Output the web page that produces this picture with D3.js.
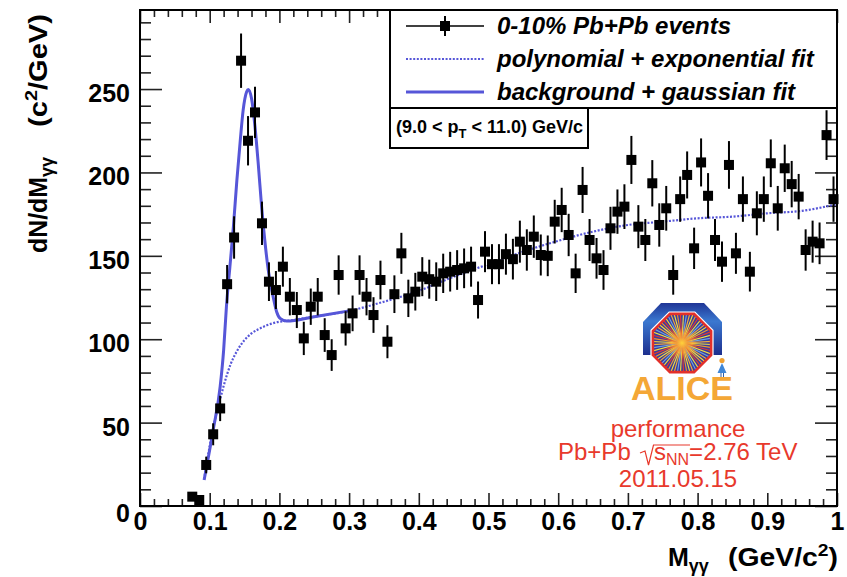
<!DOCTYPE html>
<html>
<head>
<meta charset="utf-8">
<script src="https://cdn.jsdelivr.net/npm/d3@7"></script>
<style>
  body { margin: 0; background: #fff; }
  svg { display: block; }
  text { font-family: "Liberation Sans", Arial, Helvetica, sans-serif; }
</style>
</head>
<body>
<svg id="chart" width="847" height="577"></svg>
<script>
// Invariant-mass bin centres (GeV/c^2)
const massBins = [
  0.075, 0.085, 0.095, 0.105, 0.115, 0.125, 0.135, 0.145, 0.155, 0.165,
  0.175, 0.185, 0.195, 0.205, 0.215, 0.225, 0.235, 0.245, 0.255, 0.265,
  0.275, 0.285, 0.295, 0.305, 0.315, 0.325, 0.335, 0.345, 0.355, 0.365,
  0.375, 0.385, 0.395, 0.405, 0.415, 0.425, 0.435, 0.445, 0.455, 0.465,
  0.475, 0.485, 0.495, 0.505, 0.515, 0.525, 0.535, 0.545, 0.555, 0.565,
  0.575, 0.585, 0.595, 0.605, 0.615, 0.625, 0.635, 0.645, 0.655, 0.665,
  0.675, 0.685, 0.695, 0.705, 0.715, 0.725, 0.735, 0.745, 0.755, 0.765,
  0.775, 0.785, 0.795, 0.805, 0.815, 0.825, 0.835, 0.845, 0.855, 0.865,
  0.875, 0.885, 0.895, 0.905, 0.915, 0.925, 0.935, 0.945, 0.955, 0.965,
  0.975, 0.985, 0.995
];
// dN/dM per bin
const counts = [
  5.6, 3.6, 24.6, 43, 58.5, 133, 161, 267, 219, 236,
  169.5, 134.5, 129.5, 143.5, 125.5, 117.5, 100.5, 119.5, 125.5, 102.5,
  90.5, 138.5, 106.5, 115.5, 138.5, 125.5, 114.5, 135.5, 98.5, 127,
  151.5, 124.5, 128.5, 137.5, 136, 134.5, 139.5, 140.5, 141.5, 142.5,
  143.5, 123.5, 152.5, 145, 145, 151, 148, 158.5, 153.5, 161.5,
  150.5, 150, 170.5, 177.5, 162.5, 139.5, 189.5, 159.5, 148.5, 141.5,
  166.5, 176.5, 179.5, 207.5, 167.5, 159.5, 193.5, 168.5, 178.5, 138.5,
  184, 198.5, 154.5, 206, 186, 159.5, 146.5, 204.5, 151.5, 184,
  140.5, 175.5, 184, 205.5, 178.5, 202.5, 193, 185.5, 153.5, 158.5,
  157.5, 222.4, 184
];
// statistical uncertainty per bin
const countErrors = [
  2.4, 1.9, 5.0, 6.6, 7.6, 11.5, 12.7, 16.3, 14.8, 15.4,
  13.0, 11.6, 11.4, 12.0, 11.2, 10.8, 10.0, 10.9, 11.2, 10.1,
  9.5, 11.8, 10.3, 10.7, 11.8, 11.2, 10.7, 11.6, 9.9, 11.3,
  12.3, 11.2, 11.3, 11.7, 11.7, 11.6, 11.8, 11.9, 11.9, 11.9,
  12.0, 11.1, 12.3, 12.0, 12.0, 12.3, 12.2, 12.6, 12.4, 12.7,
  12.3, 12.2, 13.1, 13.3, 12.7, 11.8, 13.8, 12.6, 12.2, 11.9,
  12.9, 13.3, 13.4, 14.4, 12.9, 12.6, 13.9, 13.0, 13.4, 11.8,
  13.6, 14.1, 12.4, 14.4, 13.6, 12.6, 12.1, 14.3, 12.3, 13.6,
  11.9, 13.2, 13.6, 14.3, 13.4, 14.2, 13.9, 13.6, 12.4, 12.6,
  12.5, 14.9, 13.6
];

// background + gaussian fit, sampled
const signalFitMass  = [0.092, 0.105, 0.115, 0.120, 0.124, 0.129, 0.134, 0.139, 0.1435, 0.148, 0.153, 0.1555, 0.160, 0.165, 0.170, 0.1745, 0.179, 0.184, 0.191, 0.196, 0.201, 0.2105, 0.25, 0.30];
const signalFitValue = [15.6, 45.6, 71.5, 93.5, 119.5, 143.5, 167.5, 195.4, 217.4, 237.4, 248.4, 249.8, 244.4, 227.4, 203.4, 179.4, 159.5, 141.5, 125.5, 116.5, 112.5, 110.9, 113.5, 117];
// polynomial + exponential background fit, sampled
const bkgFitMass  = [0.092, 0.100, 0.105, 0.110, 0.115, 0.120, 0.125, 0.130, 0.140, 0.150, 0.160, 0.170, 0.180, 0.190, 0.200, 0.210, 0.250, 0.300, 0.350, 0.400, 0.450, 0.500, 0.550, 0.600, 0.650, 0.700, 0.750, 0.800, 0.850, 0.900, 0.950, 1.000];
const bkgFitValue = [16, 36, 47, 56, 64, 72, 79, 85, 93.5, 99.5, 103.5, 106, 108, 109.5, 110.5, 111, 113.5, 117, 122.5, 129, 137.5, 145, 152.5, 159, 164.5, 168.5, 170.5, 172.5, 173.5, 175.5, 177, 181];

const xTickValues = [0, 0.1, 0.2, 0.3, 0.4, 0.5, 0.6, 0.7, 0.8, 0.9, 1];
const xTickLabels = ["0", "0.1", "0.2", "0.3", "0.4", "0.5", "0.6", "0.7", "0.8", "0.9", "1"];
const yTickValues = [0, 50, 100, 150, 200, 250];
const yTickLabels = ["0", "50", "100", "150", "200", "250"];
const legendLabels = ["0-10% Pb+Pb events", "polynomial + exponential fit", "background + gaussian fit"];

const fitBlue = "#5656d8";
const alertRed = "#e8392c";

const svg = d3.select("#chart");
svg.append("rect").attr("width", 847).attr("height", 577).attr("fill", "#fff");

const x = d3.scaleLinear().domain([0, 1]).range([140, 837]);
const y = d3.scaleLinear().domain([0, 297.4]).range([506, 10]);

const xMinor = d3.range(0, 1.0001, 0.02).filter(v => Math.abs(v * 10 - Math.round(v * 10)) > 1e-6);
const yMinor = d3.range(0, 297, 10).filter(v => v % 50 !== 0);

function styleAxis(g) {
  g.select(".domain").remove();
  g.selectAll(".tick line").attr("stroke", "#222").attr("stroke-width", 1.6);
}

// bottom axis
svg.append("g").attr("transform", "translate(0,506)")
  .call(d3.axisBottom(x).tickValues(xMinor).tickSize(-7).tickFormat(""))
  .call(styleAxis);
const gx = svg.append("g").attr("transform", "translate(0,506)")
  .call(d3.axisBottom(x).tickValues(xTickValues).tickSize(-13).tickPadding(6)
    .tickFormat((d, i) => xTickLabels[i]))
  .call(styleAxis);
gx.selectAll(".tick text")
  .attr("font-family", "Liberation Sans, Arial, sans-serif")
  .attr("font-size", 25).attr("font-weight", "bold").attr("fill", "#000");

// top axis (ticks only)
svg.append("g").attr("transform", "translate(0,10)")
  .call(d3.axisTop(x).tickValues(xMinor).tickSize(-7).tickFormat(""))
  .call(styleAxis);
svg.append("g").attr("transform", "translate(0,10)")
  .call(d3.axisTop(x).tickValues(xTickValues).tickSize(-13).tickFormat(""))
  .call(styleAxis);

// left axis
svg.append("g").attr("transform", "translate(140,0)")
  .call(d3.axisLeft(y).tickValues(yMinor).tickSize(-11).tickFormat(""))
  .call(styleAxis);
const gy = svg.append("g").attr("transform", "translate(140,0)")
  .call(d3.axisLeft(y).tickValues(yTickValues).tickSize(-22).tickPadding(10)
    .tickFormat((d, i) => yTickLabels[i]))
  .call(styleAxis);
gy.selectAll(".tick text")
  .attr("font-family", "Liberation Sans, Arial, sans-serif")
  .attr("font-size", 25).attr("font-weight", "bold").attr("fill", "#000")
  .attr("dy", (d) => d === 0 ? "0.62em" : "0.5em");

// right axis (ticks only)
svg.append("g").attr("transform", "translate(837,0)")
  .call(d3.axisRight(y).tickValues(yMinor).tickSize(-11).tickFormat(""))
  .call(styleAxis);
svg.append("g").attr("transform", "translate(837,0)")
  .call(d3.axisRight(y).tickValues(yTickValues).tickSize(-22).tickFormat(""))
  .call(styleAxis);

// frame
svg.append("rect").attr("x", 140).attr("y", 10).attr("width", 697).attr("height", 496)
  .attr("fill", "none").attr("stroke", "#000").attr("stroke-width", 2);

// ALICE logo
const logo = svg.append("g").attr("transform", "translate(682,343)");
const defs = svg.append("defs");
const archGrad = defs.append("linearGradient").attr("id", "archGrad")
  .attr("x1", "0").attr("y1", "0").attr("x2", "0").attr("y2", "1");
archGrad.append("stop").attr("offset", "0").attr("stop-color", "#1f3596");
archGrad.append("stop").attr("offset", "0.35").attr("stop-color", "#3b78d0");
archGrad.append("stop").attr("offset", "1").attr("stop-color", "#1d2f8e");
const coreGrad = defs.append("radialGradient").attr("id", "coreGrad");
coreGrad.append("stop").attr("offset", "0").attr("stop-color", "#ffd23a");
coreGrad.append("stop").attr("offset", "0.35").attr("stop-color", "#f29a3a").attr("stop-opacity", 0.9);
coreGrad.append("stop").attr("offset", "1").attr("stop-color", "#f29a3a").attr("stop-opacity", 0);

logo.append("path")
  .attr("d", "M-39,12 V-21 L-21,-40 H22 L40,-21 V12 Z")
  .attr("fill", "url(#archGrad)");
const octR = 31.5;
const octPts = d3.range(8).map(k => {
  const a = (22.5 + 45 * k) * Math.PI / 180;
  return [octR * Math.cos(a), octR * Math.sin(a)];
});
const octPath = "M" + octPts.map(p => p.join(",")).join("L") + "Z";
defs.append("clipPath").attr("id", "octClip").append("path").attr("d", octPath);
logo.append("path").attr("d", octPath).attr("fill", "#fff").attr("stroke", "#fff").attr("stroke-width", 5);
logo.append("path").attr("d", octPath).attr("fill", "#3a3c9c");
const rays = logo.append("g").attr("clip-path", "url(#octClip)");
const rayColours = ["#f6e23c", "#f39a2c", "#e8392c", "#f6e23c", "#6aa6e6", "#f3b23a"];
d3.range(60).forEach(i => {
  const a = i * 6 * Math.PI / 180 + 0.05;
  rays.append("line").attr("x1", 0).attr("y1", 0)
    .attr("x2", 40 * Math.cos(a)).attr("y2", 40 * Math.sin(a))
    .attr("stroke", rayColours[i % rayColours.length]).attr("stroke-width", 1.1);
});
rays.append("circle").attr("r", 16).attr("fill", "url(#coreGrad)");
logo.append("path").attr("d", octPath).attr("fill", "none")
  .attr("stroke", "#e3302a").attr("stroke-width", 2.6);
// little figure beside the detector
const fig = logo.append("g").attr("transform", "translate(40,14)");
fig.append("circle").attr("cx", 0).attr("cy", 3.5).attr("r", 2.6).attr("fill", "#f0a030");
fig.append("path").attr("d", "M0,6 L-4.5,16 L4.5,16 Z").attr("fill", "#3f86d6");
fig.append("line").attr("x1", -1).attr("y1", 16).attr("x2", -1).attr("y2", 21).attr("stroke", "#2c5fa8").attr("stroke-width", 1);
fig.append("line").attr("x1", 1.5).attr("y1", 16).attr("x2", 1.5).attr("y2", 21).attr("stroke", "#2c5fa8").attr("stroke-width", 1);
svg.append("text").attr("x", 682).attr("y", 400).attr("text-anchor", "middle")
  .attr("font-size", 34).attr("font-weight", "bold").attr("fill", "#f4a736").text("ALICE");

// performance label
svg.append("text").attr("x", 678).attr("y", 437).attr("text-anchor", "middle")
  .attr("font-size", 24).attr("fill", alertRed).text("performance");
svg.append("text").attr("x", 558).attr("y", 460).attr("font-size", 24).attr("fill", alertRed).text("Pb+Pb");
svg.append("path").attr("d", "M640,453 L645,451 L648.5,465 L653.5,445 L690,445")
  .attr("fill", "none").attr("stroke", alertRed).attr("stroke-width", 1.2);
const sText = svg.append("text").attr("x", 654).attr("y", 460).attr("font-size", 24).attr("fill", alertRed);
sText.append("tspan").text("s");
sText.append("tspan").attr("font-size", 16).attr("dy", 5).text("NN");
sText.append("tspan").attr("dy", -5).attr("font-size", 24).text("=2.76 TeV");
svg.append("text").attr("x", 678).attr("y", 487).attr("text-anchor", "middle")
  .attr("font-size", 24).attr("fill", alertRed).text("2011.05.15");

// fits
const bkgLine = d3.line().x((d, i) => x(bkgFitMass[i])).y(d => y(d)).curve(d3.curveMonotoneX);
const sigLine = d3.line().x((d, i) => x(signalFitMass[i])).y(d => y(d)).curve(d3.curveMonotoneX);
svg.append("path").attr("d", bkgLine(bkgFitValue)).attr("fill", "none")
  .attr("stroke", fitBlue).attr("stroke-width", 2.2).attr("stroke-dasharray", "2,1.6");
svg.append("path").attr("d", sigLine(signalFitValue)).attr("fill", "none")
  .attr("stroke", fitBlue).attr("stroke-width", 3);

// data points with error bars
const pts = svg.append("g");
massBins.forEach((m, i) => {
  const v = counts[i], e = countErrors[i];
  pts.append("line").attr("x1", x(m)).attr("x2", x(m))
    .attr("y1", y(v - e)).attr("y2", y(v + e))
    .attr("stroke", "#000").attr("stroke-width", 2);
  pts.append("rect").attr("x", x(m) - 5).attr("y", y(v) - 5)
    .attr("width", 10).attr("height", 10).attr("fill", "#000");
});

// legend
const leg = svg.append("g");
leg.append("rect").attr("x", 390).attr("y", 10).attr("width", 447).attr("height", 98)
  .attr("fill", "#fff").attr("stroke", "#000").attr("stroke-width", 2);
const rowY = [26, 59, 92];
leg.append("line").attr("x1", 406).attr("x2", 484).attr("y1", rowY[0]).attr("y2", rowY[0])
  .attr("stroke", "#000").attr("stroke-width", 1.6);
leg.append("line").attr("x1", 445).attr("x2", 445).attr("y1", rowY[0] - 10).attr("y2", rowY[0] + 10)
  .attr("stroke", "#000").attr("stroke-width", 2);
leg.append("rect").attr("x", 440).attr("y", rowY[0] - 5).attr("width", 10).attr("height", 10).attr("fill", "#000");
leg.append("line").attr("x1", 406).attr("x2", 484).attr("y1", rowY[1]).attr("y2", rowY[1])
  .attr("stroke", fitBlue).attr("stroke-width", 2.2).attr("stroke-dasharray", "2,1.6");
leg.append("line").attr("x1", 406).attr("x2", 484).attr("y1", rowY[2]).attr("y2", rowY[2])
  .attr("stroke", fitBlue).attr("stroke-width", 3);
legendLabels.forEach((t, i) => {
  leg.append("text").attr("x", 497).attr("y", rowY[i] + 8)
    .attr("font-size", 24).attr("font-weight", "bold").attr("font-style", "italic")
    .attr("fill", "#000").text(t);
});

// pT range box
svg.append("rect").attr("x", 390).attr("y", 108).attr("width", 198).attr("height", 40)
  .attr("fill", "#fff").attr("stroke", "#000").attr("stroke-width", 2);
const pt = svg.append("text").attr("x", 396).attr("y", 133)
  .attr("font-size", 18).attr("font-weight", "bold").attr("fill", "#000");
pt.append("tspan").text("(9.0 < p");
pt.append("tspan").attr("font-size", 13).attr("dy", 5).text("T");
pt.append("tspan").attr("font-size", 18).attr("dy", -5).text(" < 11.0) GeV/c");

// y-axis title: quantity part reads upward from y=253, unit part ends at the top
const ytA = svg.append("text").attr("transform", "translate(47,253) rotate(-90)")
  .attr("text-anchor", "start").attr("font-size", 25).attr("font-weight", "bold").attr("fill", "#000")
  .attr("textLength", 96).attr("lengthAdjust", "spacingAndGlyphs");
ytA.append("tspan").text("dN/dM");
ytA.append("tspan").attr("font-size", 18).attr("dy", 6).text("γγ");
const ytB = svg.append("text").attr("transform", "translate(47,127) rotate(-90)")
  .attr("text-anchor", "start").attr("font-size", 25).attr("font-weight", "bold").attr("fill", "#000")
  .attr("textLength", 113).attr("lengthAdjust", "spacingAndGlyphs");
ytB.append("tspan").text("(c");
ytB.append("tspan").attr("font-size", 17).attr("dy", -10).text("2");
ytB.append("tspan").attr("font-size", 25).attr("dy", 10).text("/GeV)");

// x-axis title
const xtA = svg.append("text").attr("x", 668).attr("y", 566)
  .attr("font-size", 25).attr("font-weight", "bold").attr("fill", "#000");
xtA.append("tspan").text("M");
xtA.append("tspan").attr("font-size", 18).attr("dy", 6).text("γγ");
const xtB = svg.append("text").attr("x", 728).attr("y", 566)
  .attr("font-size", 25).attr("font-weight", "bold").attr("fill", "#000")
  .attr("textLength", 110).attr("lengthAdjust", "spacingAndGlyphs");
xtB.append("tspan").text("(GeV/c");
xtB.append("tspan").attr("font-size", 17).attr("dy", -10).text("2");
xtB.append("tspan").attr("font-size", 25).attr("dy", 10).text(")");
</script>
</body>
</html>
